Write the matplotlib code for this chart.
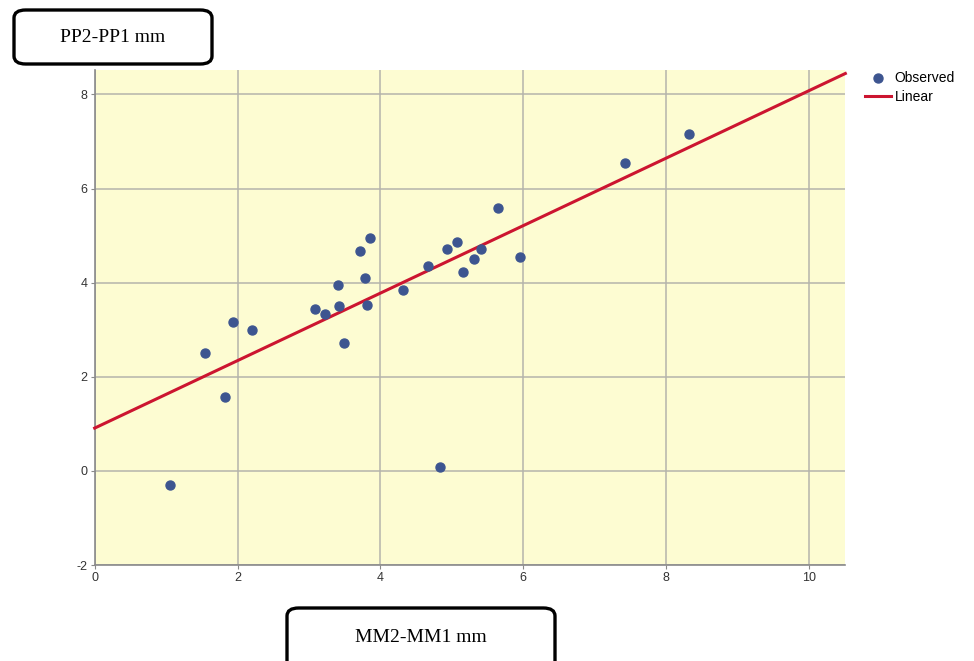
import matplotlib
matplotlib.use("Agg")
import matplotlib.pyplot as plt
from matplotlib.patches import FancyBboxPatch
import numpy as np

plt.rcParams["axes.unicode_minus"] = False

# observed points (MM2-MM1, PP2-PP1)
mm_diff = [1.05, 1.55, 1.83, 1.93, 2.20, 3.09, 3.22, 3.42, 3.49, 3.81,
           4.84, 3.85, 3.72, 3.78, 3.41, 4.32, 4.66, 4.93, 5.07, 5.15,
           5.31, 5.41, 5.65, 5.95, 7.42, 8.32]
pp_diff = [-0.31, 2.51, 1.58, 3.16, 3.00, 3.44, 3.33, 3.50, 2.71, 3.53,
           0.08, 4.96, 4.68, 4.11, 3.96, 3.85, 4.35, 4.72, 4.87, 4.22,
           4.50, 4.72, 5.59, 4.55, 6.54, 7.17]

# linear fit line as shown
fit_intercept = 0.91
fit_slope = 0.717

x_ticks = [0, 2, 4, 6, 8, 10]
y_ticks = [-2, 0, 2, 4, 6, 8]

fig = plt.figure(figsize=(9.74, 6.61), dpi=100)
ax = fig.add_axes([0.0972, 0.1452, 0.7707, 0.7489])
ax.set_facecolor("#fdfcd2")

ax.set_xlim(0, 10.51)
ax.set_ylim(-2, 8.52)
ax.set_xticks(x_ticks)
ax.set_yticks(y_ticks)
ax.grid(True, color="#b4b4ac", linewidth=1.1)
ax.set_axisbelow(True)

for s in ["top", "right"]:
    ax.spines[s].set_visible(False)
for s in ["left", "bottom"]:
    ax.spines[s].set_color("#8a8a8a")
    ax.spines[s].set_linewidth(1.2)
ax.tick_params(length=3, width=0.8, color="#8a8a8a", labelsize=9,
               labelcolor="#333333", pad=2)
for lab in ax.get_xticklabels() + ax.get_yticklabels():
    lab.set_family("Liberation Sans")

xs = np.array([0, 10.51])
ax.plot(xs, fit_intercept + fit_slope * xs, color="#cc1530", linewidth=2.2,
        label="Linear", zorder=3, clip_on=False)
ax.scatter(mm_diff, pp_diff, s=42, color="#3d5590", label="Observed", zorder=4)

h, l = ax.get_legend_handles_labels()
leg = fig.legend([h[1], h[0]], [l[1], l[0]], loc="upper left",
                 bbox_to_anchor=(0.888, 0.893), frameon=False,
                 prop={"family": "Liberation Sans", "size": 10},
                 handlelength=1.9, handletextpad=0.25, labelspacing=0.35,
                 borderaxespad=0, borderpad=0)

# boxed axis labels
box1 = FancyBboxPatch((14 / 974, 1 - 64 / 661), 198 / 974, 54 / 661,
                      boxstyle="round,pad=0,rounding_size=0.012",
                      transform=fig.transFigure, fill=False,
                      edgecolor="black", linewidth=2.4)
fig.patches.append(box1)
fig.text(113 / 974, 1 - 38 / 661, "PP2-PP1 mm", ha="center", va="center",
         family="Liberation Serif", fontsize=14)

box2 = FancyBboxPatch((287 / 974, -0.03), 268 / 974, 1 - 608 / 661 + 0.03,
                      boxstyle="round,pad=0,rounding_size=0.012",
                      transform=fig.transFigure, fill=False,
                      edgecolor="black", linewidth=2.4)
fig.patches.append(box2)
fig.text(421 / 974, 1 - 637 / 661, "MM2-MM1 mm", ha="center", va="center",
         family="Liberation Serif", fontsize=14)

fig.savefig("out.png", dpi=100)
